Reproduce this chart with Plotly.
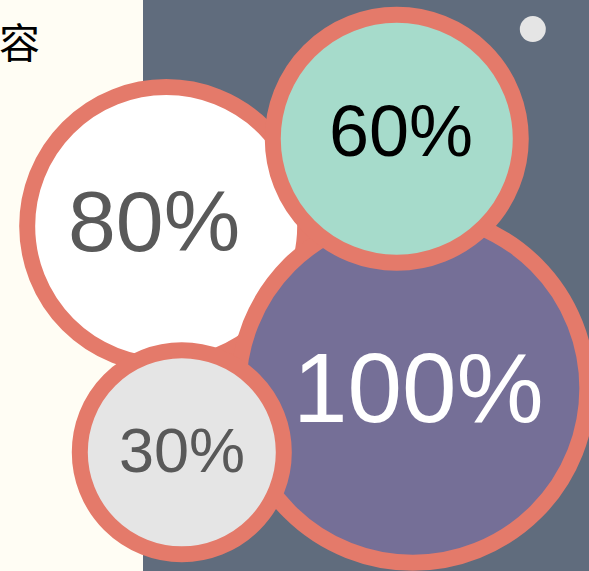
import plotly.graph_objects as go

# Bubble data
labels = ["80%", "100%", "60%", "30%"]
values = [80, 100, 60, 30]
bubble_x = [5.2, 60.5, 56.9, 8.7]
bubble_y = [60.4, 32.0, 75.7, 20.8]
bubble_diam = [278, 349, 248, 204]

# Per-bubble styling
fill_colors = ["#ffffff", "#756f97", "#a6dbcb", "#e5e5e5"]
text_colors = ["#595959", "#ffffff", "#000000", "#595959"]
text_sizes = [86, 98, 72, 63]
text_dx = [-12, 6, 4, 0]
text_dy = [5, 0, 8, 2]

BORDER = "#e47a6a"

fig = go.Figure()

fig.add_trace(go.Scatter(
    x=bubble_x,
    y=bubble_y,
    mode="markers",
    marker=dict(
        size=bubble_diam,
        sizemode="diameter",
        color=fill_colors,
        opacity=1,
        line=dict(color=BORDER, width=16),
    ),
    cliponaxis=False,
    hoverinfo="skip",
    showlegend=False,
))

# Small decorative dot in the upper right
fig.add_trace(go.Scatter(
    x=[87.4], y=[94.9],
    mode="markers",
    marker=dict(size=26, color="#e5e5e5", line=dict(width=0)),
    cliponaxis=False,
    hoverinfo="skip",
    showlegend=False,
))

for lab, x, y, c, s, dx, dy in zip(labels, bubble_x, bubble_y, text_colors,
                                   text_sizes, text_dx, text_dy):
    fig.add_annotation(
        x=x, y=y, text=lab, showarrow=False,
        xanchor="center", yanchor="middle", xshift=dx, yshift=dy,
        font=dict(family="Liberation Sans, Arial, sans-serif", size=s, color=c),
    )

# Title fragment at the top left
fig.add_annotation(
    xref="paper", yref="paper", x=-0.3206, y=1.0,
    xanchor="left", yanchor="top", xshift=-3, yshift=-8,
    text="容", showarrow=False,
    font=dict(family="Noto Sans CJK SC, sans-serif", size=41, color="#000000"),
)

fig.update_layout(
    width=589,
    height=571,
    margin=dict(l=143, r=0, t=0, b=0),
    paper_bgcolor="#fffdf4",
    plot_bgcolor="#606c7d",
    xaxis=dict(range=[0, 100], visible=False, fixedrange=True),
    yaxis=dict(range=[0, 100], visible=False, fixedrange=True),
    showlegend=False,
)

fig.write_html("out.html")
